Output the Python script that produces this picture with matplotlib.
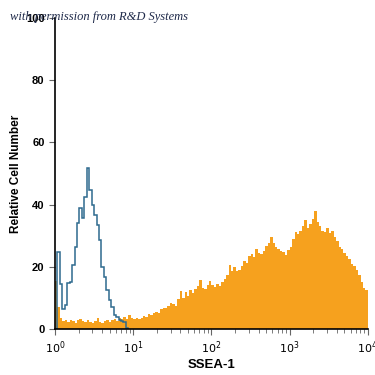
"""Flow cytometry histogram: SSEA-1 staining vs isotype control."""

import numpy as np
import matplotlib

matplotlib.use("Agg")
import matplotlib.pyplot as plt
from matplotlib.ticker import LogLocator, FixedLocator

# 32 bins per decade, 10^0 .. 10^4
bins_per_decade = 32
n_decades = 4

# SSEA-1 stained cells (filled orange)
ssea1_counts = [
    15.5, 7.0, 3.5, 2.5, 2.8, 2.2, 3.0, 2.5, 2.0, 2.8, 3.3, 2.6, 2.2, 2.9, 2.4, 1.8,
    2.6, 3.4, 2.3, 2.0, 2.7, 3.0, 2.4, 2.9, 3.3, 2.6, 3.6, 3.1, 3.8, 3.2, 4.4, 3.4,
    3.3, 3.6, 3.1, 3.5, 4.3, 4.0, 4.7, 4.4, 5.0, 5.6, 5.2, 6.4, 6.9, 6.6, 7.5, 8.3,
    7.9, 7.4, 9.5, 12.2, 10.0, 11.8, 10.6, 12.4, 11.5, 12.9, 13.8, 15.6, 13.2, 12.7, 14.3, 15.5,
    14.2, 13.6, 14.5, 13.8, 15.0, 16.2, 17.5, 20.5, 18.5, 20.0, 18.7, 19.0, 20.2, 22.0, 21.2, 23.5,
    24.2, 23.0, 25.6, 24.5, 24.0, 25.2, 26.8, 27.5, 29.6, 27.8, 26.5, 25.6, 25.0, 24.6, 23.8, 25.4,
    26.3, 28.8, 31.2, 30.5, 31.4, 33.2, 35.0, 32.6, 33.8, 35.4, 38.0, 34.5, 33.0, 31.5, 31.2, 32.4,
    30.8, 31.5, 29.6, 28.2, 26.5, 25.8, 24.4, 23.6, 22.5, 21.0, 20.2, 19.0, 17.2, 15.0, 13.2, 12.5,
]

# isotype control (open blue outline), first 30 bins
control_counts = [
    0.0, 24.8, 14.5, 6.4, 7.8, 14.8, 15.2, 20.5, 26.4, 34.0, 39.0, 35.7, 42.5, 51.7, 44.7, 40.0,
    36.7, 33.4, 28.6, 20.0, 16.7, 12.5, 9.3, 7.0, 4.5, 4.0, 3.0, 2.6, 2.2, 0.3,
]

y_ticks = [0, 20, 40, 60, 80, 100]
x_ticks = [1, 10, 100, 1000, 10000]
x_tick_labels = ["10$^0$", "10$^1$", "10$^2$", "10$^3$", "10$^4$"]

orange = "#F6A11E"
blue = "#2E6A8E"

edges = 10 ** (np.arange(bins_per_decade * n_decades + 1) / bins_per_decade)

fig = plt.figure(figsize=(3.75, 3.75), dpi=100)
ax = fig.add_axes([0.1467, 0.1227, 0.8343, 0.8293])

ax.stairs(ssea1_counts, edges, fill=True, color=orange, lw=0)
ctrl_edges = edges[: len(control_counts) + 1]
ax.stairs(control_counts, ctrl_edges, color=blue, lw=1.1)

ax.set_xscale("log")
ax.set_xlim(1, 10000)
ax.set_ylim(0, 100)

for side in ("top", "right"):
    ax.spines[side].set_visible(False)
for side in ("left", "bottom"):
    ax.spines[side].set_linewidth(1.2)

ax.xaxis.set_major_locator(FixedLocator(x_ticks))
ax.xaxis.set_minor_locator(LogLocator(base=10, subs=np.arange(2, 10)))
ax.set_xticklabels(x_tick_labels, fontsize=8, family="DejaVu Sans")
ax.set_yticks(y_ticks)
ax.set_yticklabels([str(v) for v in y_ticks], fontsize=8, fontweight="bold", family="Liberation Sans")
ax.tick_params(axis="both", which="major", length=4, width=0.8, color="0.4")
ax.tick_params(axis="x", which="minor", length=3, width=0.6, color="0.4")

ax.set_xlabel("SSEA-1", fontsize=9.5, fontweight="bold", family="Liberation Sans", labelpad=2)
ax.set_ylabel("Relative Cell Number", fontsize=8.5, fontweight="bold", family="Liberation Sans", labelpad=3)

fig.text(10 / 375, 1 - 17 / 375, "with permission from R&D Systems", fontsize=9,
         style="italic", family="Liberation Serif", color="#1F2A4A", va="center", ha="left")

fig.savefig("out.png", dpi=100)
